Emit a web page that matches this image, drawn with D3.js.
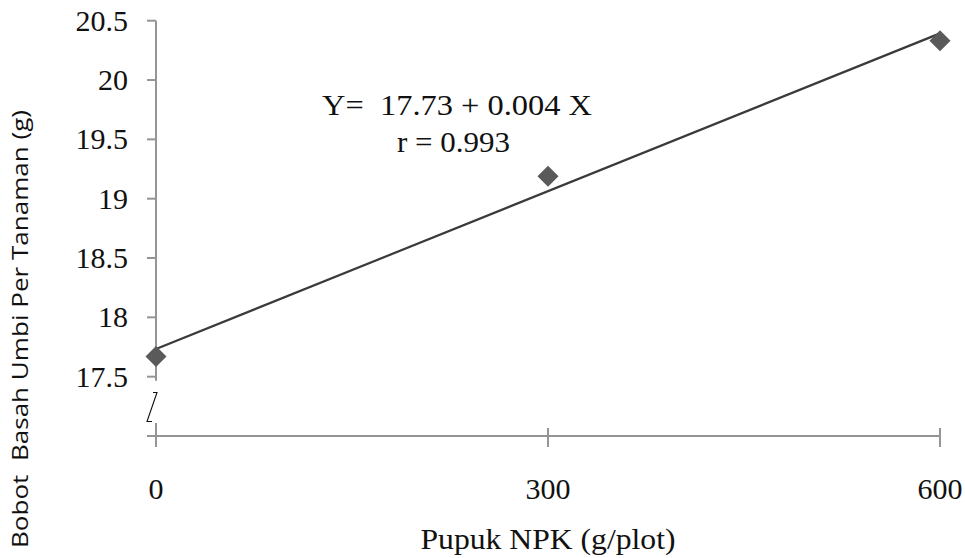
<!DOCTYPE html>
<html><head><meta charset="utf-8">
<script src="https://cdn.jsdelivr.net/npm/d3@7"></script>
<style>
html,body{margin:0;padding:0;background:#fff;}
svg{display:block;}
text{white-space:pre;}
</style></head>
<body>
<svg id="chart" width="965" height="558"></svg>
<script>
// ---- data ----
const doses = [0, 300, 600];
const weights = [17.67, 19.19, 20.33];
const yTicks = [17.5, 18, 18.5, 19, 19.5, 20, 20.5];
const xTicks = [0, 300, 600];
const equationText = "Y=  17.73 + 0.004 X";
const rText = "r = 0.993";
const xTitle = "Pupuk NPK (g/plot)";
const yTitle = "Bobot  Basah Umbi Per Tanaman (g)";

const svg = d3.select("#chart");
const x = d3.scaleLinear().domain([0, 600]).range([156, 940]);
const y = d3.scaleLinear().domain([17, 20.5]).range([436, 20.7]);

const axisColor = "#959595";
const serif = "'Liberation Serif','Times New Roman',serif";

// y axis line with break
const gAxis = svg.append("g").attr("stroke", axisColor).attr("stroke-width", 2).attr("fill", "none");
gAxis.append("line").attr("x1", x(0)).attr("x2", x(0)).attr("y1", y(20.5)).attr("y2", y(17.5) + 4);
gAxis.append("line").attr("x1", x(0)).attr("x2", x(0)).attr("y1", 423).attr("y2", y(17) + 11);
// y ticks
gAxis.selectAll("line.yt").data(yTicks).join("line").attr("class", "yt")
  .attr("x1", x(0) - 9).attr("x2", x(0)).attr("y1", d => y(d)).attr("y2", d => y(d));
// x axis
gAxis.append("line").attr("x1", x(0) - 9).attr("x2", x(600)).attr("y1", y(17)).attr("y2", y(17));
gAxis.selectAll("line.xt").data(xTicks).join("line").attr("class", "xt")
  .attr("x1", d => x(d)).attr("x2", d => x(d)).attr("y1", y(17) - 8).attr("y2", y(17) + 11);

// break symbol
svg.append("path")
  .attr("d", `M${x(0) - 3},392.5 L${x(0) + 1},392.5 L${x(0) - 9},421.5 L${x(0) - 4},421.5`)
  .attr("fill", "none").attr("stroke", "#111").attr("stroke-width", 1.1);

// y tick labels
svg.selectAll("text.yl").data(yTicks).join("text").attr("class", "yl")
  .attr("x", 128).attr("y", d => y(d) + 10)
  .attr("text-anchor", "end").attr("font-family", serif).attr("font-size", 30).attr("fill", "#111")
  .text(d => d3.format("")(d));

// x tick labels
svg.selectAll("text.xl").data(xTicks).join("text").attr("class", "xl")
  .attr("x", d => x(d)).attr("y", 499)
  .attr("text-anchor", "middle").attr("font-family", serif).attr("font-size", 30).attr("fill", "#111")
  .text(d => d);

// trendline (least squares)
const n = doses.length;
const mx = d3.mean(doses), my = d3.mean(weights);
const slope = d3.sum(doses.map((d, i) => (d - mx) * (weights[i] - my))) / d3.sum(doses.map(d => (d - mx) ** 2));
const icpt = my - slope * mx;
svg.append("line")
  .attr("x1", x(0)).attr("y1", y(icpt))
  .attr("x2", x(600)).attr("y2", y(icpt + slope * 600))
  .attr("stroke", "#3a3a3a").attr("stroke-width", 2.2);

// markers (diamonds)
const r = 10.5;
svg.selectAll("path.pt").data(doses).join("path").attr("class", "pt")
  .attr("d", (d, i) => {
    const cx = x(d), cy = y(weights[i]);
    return `M${cx},${cy - r}L${cx + r},${cy}L${cx},${cy + r}L${cx - r},${cy}Z`;
  })
  .attr("fill", "#5a5a5a");

// equation
svg.append("text").attr("x", 322).attr("y", 115)
  .attr("font-family", serif).attr("font-size", 30).attr("fill", "#111")
  .attr("textLength", 270).attr("lengthAdjust", "spacingAndGlyphs")
  .text(equationText);
svg.append("text").attr("x", 397).attr("y", 152)
  .attr("font-family", serif).attr("font-size", 30).attr("fill", "#111")
  .attr("textLength", 113).attr("lengthAdjust", "spacingAndGlyphs")
  .text(rText);

// axis titles
svg.append("text").attr("x", 548).attr("y", 549)
  .attr("text-anchor", "middle").attr("font-family", serif).attr("font-size", 30).attr("fill", "#111")
  .attr("textLength", 255).attr("lengthAdjust", "spacingAndGlyphs")
  .text(xTitle);
svg.append("text")
  .attr("transform", "translate(28,329) rotate(-90)")
  .attr("text-anchor", "middle").attr("font-family", "'Open Sans','Liberation Sans',sans-serif")
  .attr("font-size", 22).attr("fill", "#111")
  .attr("textLength", 438).attr("lengthAdjust", "spacingAndGlyphs")
  .text(yTitle);
</script>
</body></html>
